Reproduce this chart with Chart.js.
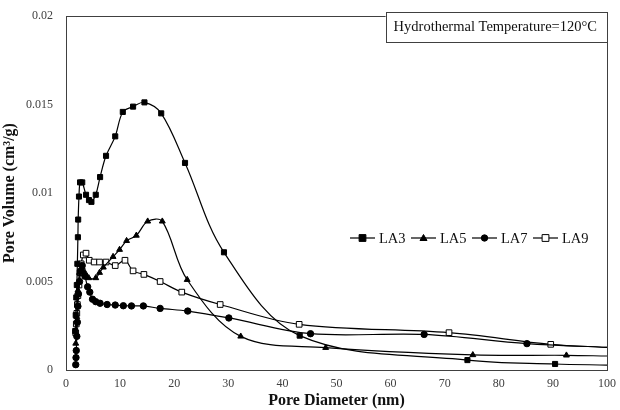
<!DOCTYPE html>
<html>
<head>
<meta charset="utf-8">
<script src="https://cdn.jsdelivr.net/npm/chart.js@4/dist/chart.umd.min.js"></script>
<style>
  html, body { margin: 0; padding: 0; background: #fff; }
  #wrap { width: 620px; height: 410px; }
</style>
</head>
<body>
<div id="wrap"><canvas id="chart" width="620" height="410"></canvas></div>
<script>
// pore size distribution values
var la3X = [1.7, 1.8, 1.9, 2.0, 2.1, 2.2, 2.25, 2.4, 2.6, 3.0, 3.7, 4.25, 4.7, 5.5, 6.3, 7.4, 9.1, 10.5, 12.4, 14.5, 17.6, 22.0, 29.2, 43.2, 74.2, 90.4, 100];
var la3Y = [0.0022, 0.0031, 0.0041, 0.0048, 0.006, 0.0075, 0.0085, 0.0098, 0.0106, 0.0106, 0.0099, 0.0096, 0.0095, 0.0099, 0.0109, 0.0121, 0.0132, 0.01458, 0.01488, 0.01512, 0.0145, 0.0117, 0.00665, 0.00194, 0.00056, 0.00034, 0.00028];

var la5X = [1.8, 2.0, 2.2, 2.5, 3.0, 3.5, 4.2, 5.5, 6.2, 6.9, 8.7, 9.9, 11.2, 13.0, 15.1, 17.8, 22.4, 32.3, 48.0, 75.2, 92.5, 100];
var la5Y = [0.0015, 0.003, 0.0045, 0.0055, 0.0058, 0.0055, 0.0052, 0.0052, 0.0055, 0.0058, 0.0064, 0.0068, 0.0073, 0.0076, 0.0084, 0.0084, 0.0051, 0.0019, 0.00126, 0.00085, 0.00083, 0.00079];

var la7X = [1.8, 1.85, 1.9, 2.0, 2.1, 2.2, 2.3, 2.5, 2.7, 3.0, 3.5, 4.0, 4.4, 4.9, 5.5, 6.3, 7.6, 9.1, 10.6, 12.1, 14.3, 17.4, 22.5, 30.1, 45.2, 66.2, 85.2, 100];
var la7Y = [0.0003, 0.0007, 0.0011, 0.0019, 0.0027, 0.0036, 0.0043, 0.005, 0.0056, 0.0059, 0.0053, 0.0047, 0.0044, 0.004, 0.00386, 0.00377, 0.0037, 0.00367, 0.00363, 0.00362, 0.00362, 0.00348, 0.00333, 0.00294, 0.00205, 0.00201, 0.00149, 0.00128];

var la9X = [1.8, 1.9, 2.0, 2.1, 2.2, 2.4, 2.6, 2.8, 3.2, 3.7, 4.3, 5.2, 6.2, 7.4, 9.1, 10.9, 12.4, 14.4, 17.4, 21.4, 28.5, 43.1, 70.8, 89.6, 100];
var la9Y = [0.0021, 0.0026, 0.0032, 0.0037, 0.0042, 0.0048, 0.0055, 0.006, 0.0065, 0.0066, 0.0062, 0.0061, 0.0061, 0.0061, 0.0059, 0.0062, 0.0056, 0.0054, 0.005, 0.0044, 0.0037, 0.00258, 0.00211, 0.00145, 0.00128];

var seriesNames = ['LA3', 'LA5', 'LA7', 'LA9'];
var yTicks = [0, 0.005, 0.01, 0.015, 0.02];
var xTicks = [0, 10, 20, 30, 40, 50, 60, 70, 80, 90, 100];
var noteText = 'Hydrothermal Temperature=120\u00B0C';

var serif = '"Liberation Serif", "Times New Roman", serif';

function toPoints(xs, ys) {
  return xs.map(function (x, i) { return { x: x, y: ys[i] }; });
}

// last point sits on the right border, no marker there
function lastHidden(r) {
  return function (ctx) {
    return ctx.dataIndex === ctx.dataset.data.length - 1 ? 0 : r;
  };
}

function makeSet(label, xs, ys, style, radius, fill) {
  return {
    label: label,
    data: toPoints(xs, ys),
    showLine: true,
    tension: 0.35,
    borderColor: '#000',
    borderWidth: 1.2,
    pointStyle: style,
    pointRadius: lastHidden(radius),
    pointHoverRadius: 0,
    pointBackgroundColor: fill,
    pointBorderColor: '#000',
    pointBorderWidth: 1
  };
}

var datasets = [
  makeSet(seriesNames[0], la3X, la3Y, 'rect', 3.6, '#000'),
  makeSet(seriesNames[1], la5X, la5Y, 'triangle', 3.4, '#000'),
  makeSet(seriesNames[2], la7X, la7Y, 'circle', 3.2, '#000'),
  makeSet(seriesNames[3], la9X, la9Y, 'rect', 4, '#fff')
];

// small legend sample: line with marker in the middle
function legendMark(c, style, fill, cx, cy) {
  c.fillStyle = fill;
  c.strokeStyle = '#000';
  c.lineWidth = 1;
  c.beginPath();
  if (style === 'rect') {
    c.rect(cx - 3.4, cy - 3.4, 6.8, 6.8);
  } else if (style === 'circle') {
    c.arc(cx, cy, 3.2, 0, Math.PI * 2);
  } else {
    c.moveTo(cx, cy - 3.5);
    c.lineTo(cx + 3.5, cy + 2.5);
    c.lineTo(cx - 3.5, cy + 2.5);
    c.closePath();
  }
  c.fill();
  c.stroke();
}

// frame, note box and in-plot legend
var decor = {
  id: 'decor',
  afterDraw: function (chart) {
    var c = chart.ctx, a = chart.chartArea;
    c.save();
    c.strokeStyle = '#404040';
    c.lineWidth = 1;
    c.strokeRect(Math.round(a.left) + 0.5, Math.round(a.top) + 0.5,
      Math.round(a.right - a.left), Math.round(a.bottom - a.top));

    // note box
    c.font = '14.5px ' + serif;
    var tw = c.measureText(noteText).width;
    var bw = tw + 18, bx = a.right - bw, by = 12, bh = 30;
    c.fillStyle = '#fff';
    c.fillRect(bx, by, bw, bh);
    c.strokeStyle = '#404040';
    c.strokeRect(Math.round(bx) + 0.5, Math.round(by) + 0.5, Math.round(bw), Math.round(bh));
    c.fillStyle = '#111';
    c.textBaseline = 'middle';
    c.fillText(noteText, bx + 8, by + 15);

    // legend
    var lx = 350, ly = 238;
    c.font = '14.5px ' + serif;
    datasets.forEach(function (ds) {
      c.strokeStyle = '#000';
      c.lineWidth = 1.2;
      c.beginPath();
      c.moveTo(lx, ly);
      c.lineTo(lx + 25, ly);
      c.stroke();
      legendMark(c, ds.pointStyle, ds.pointBackgroundColor, lx + 12.5, ly);
      c.fillStyle = '#111';
      c.textBaseline = 'middle';
      c.fillText(ds.label, lx + 29, ly + 1);
      lx += 61;
    });
    c.restore();
  }
};

// let layout.padding alone decide where the plot box sits
function noScalePad(s) {
  s.paddingTop = 0;
  s.paddingBottom = 0;
  s.paddingLeft = 0;
  s.paddingRight = 0;
}

new Chart(document.getElementById('chart'), {
  type: 'scatter',
  data: { datasets: datasets },
  plugins: [decor],
  options: {
    responsive: false,
    animation: false,
    layout: { padding: { top: 16, right: 13, left: 0, bottom: 0 } },
    plugins: {
      legend: { display: false },
      tooltip: { enabled: false }
    },
    scales: {
      x: {
        type: 'linear',
        min: 0,
        max: 100,
        afterBuildTicks: function (s) { s.ticks = xTicks.map(function (v) { return { value: v }; }); },
        afterFit: function (s) { s.height = 40; noScalePad(s); },
        grid: { display: false, drawTicks: false },
        border: { display: false },
        ticks: {
          padding: 7,
          color: '#404040',
          font: { family: serif, size: 12 }
        },
        title: {
          display: true,
          text: 'Pore Diameter (nm)',
          color: '#111',
          padding: { top: 3, bottom: 0 },
          font: { family: serif, size: 16, weight: 'bold' }
        }
      },
      y: {
        type: 'linear',
        min: 0,
        max: 0.02,
        afterBuildTicks: function (s) { s.ticks = yTicks.map(function (v) { return { value: v }; }); },
        afterFit: function (s) { s.width = 66; noScalePad(s); },
        grid: { display: false, drawTicks: false },
        border: { display: false },
        ticks: {
          padding: 13,
          color: '#404040',
          font: { family: serif, size: 12 },
          callback: function (v) { return String(v); }
        },
        title: {
          display: true,
          text: 'Pore Volume (cm\u00B3/g)',
          color: '#111',
          padding: { top: 0, bottom: 0 },
          font: { family: serif, size: 16, weight: 'bold' }
        }
      }
    }
  }
});
</script>
</body>
</html>
